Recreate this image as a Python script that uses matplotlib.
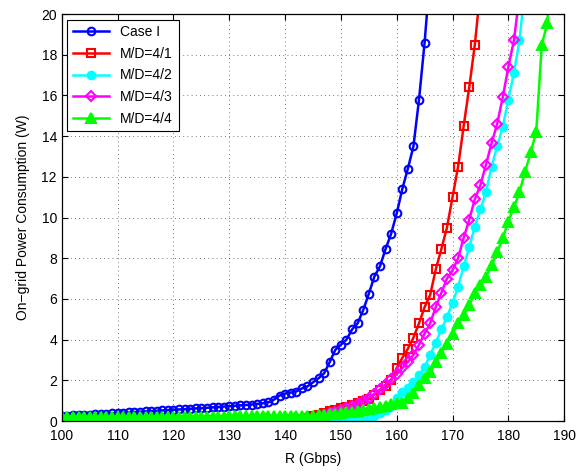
import numpy as np
import matplotlib.pyplot as plt

# Data (R in Gbps, power in W)
r_case1 = list(range(100, 167))
p_case1 = [0.25, 0.27, 0.28, 0.30, 0.31, 0.32, 0.34, 0.35, 0.36, 0.38,
           0.40, 0.41, 0.43, 0.44, 0.46, 0.47, 0.49, 0.50, 0.52, 0.54,
           0.55, 0.57, 0.58, 0.60, 0.62, 0.63, 0.65, 0.67, 0.69, 0.71,
           0.73, 0.75, 0.77, 0.79, 0.81, 0.84, 0.87, 0.92, 1.05, 1.25,
           1.35, 1.40, 1.45, 1.60, 1.70, 1.90, 2.10, 2.35, 2.90, 3.50,
           3.75, 4.00, 4.50, 4.80, 5.45, 6.25, 7.10, 7.60, 8.45, 9.20,
           10.2, 11.4, 12.4, 13.5, 15.8, 18.6, 22.0]

r_md41 = list(range(100, 176))
p_md41 = [0.03, 0.03, 0.03, 0.03, 0.03, 0.03, 0.03, 0.03, 0.03, 0.03,
          0.03, 0.03, 0.03, 0.03, 0.03, 0.03, 0.03, 0.03, 0.03, 0.03,
          0.03, 0.03, 0.03, 0.03, 0.03, 0.04, 0.04, 0.04, 0.04, 0.04,
          0.04, 0.04, 0.04, 0.05, 0.05, 0.05, 0.05, 0.05, 0.06, 0.06,
          0.07, 0.08, 0.10, 0.12, 0.15, 0.25, 0.32, 0.40, 0.50, 0.55,
          0.62, 0.70, 0.80, 0.88, 0.97, 1.10, 1.30, 1.50, 1.70, 2.00,
          2.60, 3.10, 3.55, 4.10, 4.80, 5.60, 6.20, 7.45, 8.45, 9.50,
          11.0, 12.5, 14.5, 16.4, 18.5, 21.2]

r_md42 = list(range(100, 184))
p_md42 = [0.0] * 55 + [
          0.10, 0.25, 0.40, 0.55, 0.75, 1.15, 1.45, 1.60, 1.90, 2.25,
          2.65, 3.25, 3.85, 4.50, 5.10, 5.80, 6.60, 7.60, 8.55, 9.55,
          10.4, 11.25, 12.5, 13.5, 14.45, 15.8, 17.1, 18.7, 21.3]

r_md43 = list(range(100, 183))
p_md43 = [0.01] * 45 + [
          0.15, 0.22, 0.30, 0.38, 0.45, 0.55, 0.63, 0.74, 0.85, 1.00,
          1.15, 1.35, 1.55, 1.80, 2.05, 2.30, 2.60, 2.90, 3.25, 3.75,
          4.30, 4.80, 5.60, 6.30, 7.00, 7.40, 8.00, 9.00, 9.90, 10.9,
          11.6, 12.6, 13.65, 14.6, 15.9, 17.4, 18.7, 20.9]

r_md44 = list(range(100, 189))
p_md44 = [0.20, 0.20, 0.20, 0.20, 0.20, 0.20, 0.20, 0.20, 0.20, 0.20,
          0.21, 0.21, 0.21, 0.21, 0.21, 0.21, 0.21, 0.21, 0.21, 0.21,
          0.22, 0.22, 0.22, 0.22, 0.22, 0.22, 0.22, 0.22, 0.22, 0.22,
          0.23, 0.23, 0.23, 0.23, 0.23, 0.24, 0.24, 0.24, 0.24, 0.24,
          0.25, 0.25, 0.25, 0.26, 0.26, 0.27, 0.28, 0.30, 0.33, 0.36,
          0.40, 0.42, 0.45, 0.48, 0.52, 0.58, 0.62, 0.68, 0.75, 0.82,
          0.90, 0.90, 1.15, 1.40, 1.75, 2.10, 2.40, 2.90, 3.35, 3.80,
          4.30, 4.80, 5.20, 5.70, 6.30, 6.70, 7.10, 7.65, 8.30, 9.00,
          9.80, 10.5, 11.25, 12.25, 13.2, 14.2, 18.5, 19.55, 25.0]

labels = ['Case I', 'M/D=4/1', 'M/D=4/2', 'M/D=4/3', 'M/D=4/4']

plt.rcParams['font.family'] = ['Liberation Sans', 'DejaVu Sans']
fig = plt.figure(figsize=(5.78, 4.76), dpi=100)
ax = fig.add_axes([0.107, 0.1155, 0.869, 0.855])

# MATLAB-style pure colours
blue, red, cyan, magenta, green = '#0000ff', '#ff0000', '#00ffff', '#ff00ff', '#00ff00'
lw, mew = 1.8, 1.5
ax.plot(r_case1, p_case1, '-o', color=blue, lw=lw, ms=5.5, mew=mew,
        mfc='none', label=labels[0])
ax.plot(r_md41, p_md41, '-s', color=red, lw=lw, ms=5.5, mew=mew,
        mfc='none', label=labels[1])
ax.plot(r_md42, p_md42, '-o', color=cyan, lw=lw, ms=5.5, mew=mew,
        mfc=cyan, label=labels[2])
ax.plot(r_md43, p_md43, '-D', color=magenta, lw=lw, ms=5, mew=mew,
        mfc='none', label=labels[3])
ax.plot(r_md44, p_md44, '-^', color=green, lw=lw, ms=7, mew=mew,
        mfc=green, label=labels[4])

ax.set_xlim(100, 190)
ax.set_ylim(0, 20)
ax.set_xticks(np.arange(100, 191, 10))
ax.set_yticks(np.arange(0, 21, 2))
ax.tick_params(direction='in', top=True, right=True, labelsize=10, length=4)
ax.tick_params(axis='x', pad=6)
ax.grid(True, linestyle=(0, (1, 4)), color='k', linewidth=0.6, alpha=0.7)
for s in ax.spines.values():
    s.set_linewidth(0.9)

ax.set_xlabel('R (Gbps)', fontsize=10, labelpad=6)
ax.set_ylabel('On\u2212grid Power Consumption (W)', fontsize=10, labelpad=8)

leg = ax.legend(loc='upper left', fontsize=10, fancybox=False, framealpha=1,
                edgecolor='k', handlelength=2.6, borderaxespad=0.4,
                labelspacing=0.55)
leg.get_frame().set_linewidth(0.8)

fig.savefig('out.png', dpi=100)
